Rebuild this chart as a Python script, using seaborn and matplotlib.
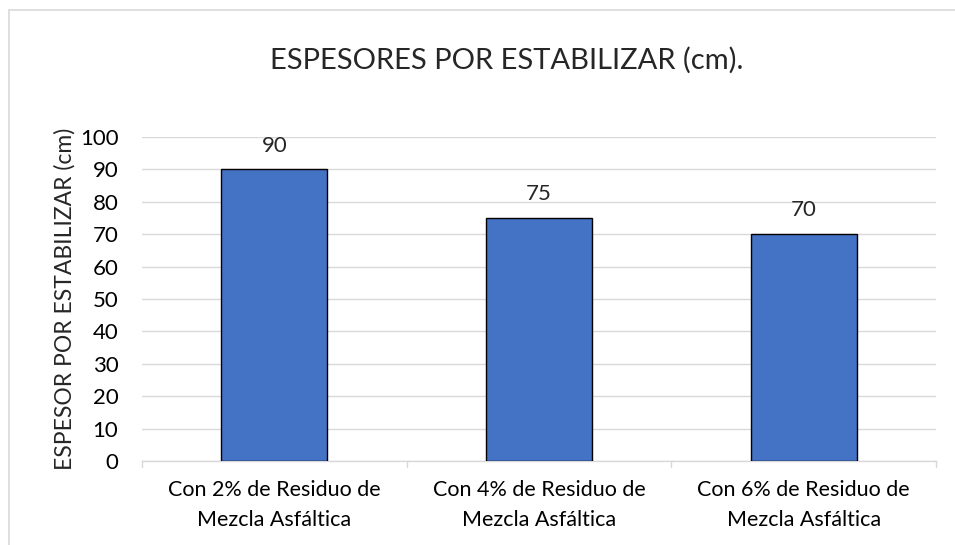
import matplotlib
matplotlib.use("Agg")
import matplotlib.pyplot as plt
import seaborn as sns
import pandas as pd
from matplotlib.lines import Line2D

categories = [
    "Con 2% de Residuo de\nMezcla Asfáltica",
    "Con 4% de Residuo de\nMezcla Asfáltica",
    "Con 6% de Residuo de\nMezcla Asfáltica",
]
values = [90, 75, 70]
y_ticks = [0, 10, 20, 30, 40, 50, 60, 70, 80, 90, 100]

title = "ESPESORES POR ESTABILIZAR (cm)."
y_label = "ESPESOR POR ESTABILIZAR (cm)"

sns.set_style("white")
plt.rcParams["font.family"] = ["Lato", "DejaVu Sans"]

df = pd.DataFrame({"cat": categories, "val": values})

fig = plt.figure(figsize=(9.55, 5.45), dpi=100)
ax = fig.add_axes([0.1487, 0.1541, 0.8313, 0.5945])

sns.barplot(data=df, x="cat", y="val", color="#4472C4", saturation=1,
            width=0.40, edgecolor="black", linewidth=1.0, ax=ax, zorder=3)

ax.set_xlim(-0.5, 2.5)
ax.set_ylim(0, 100)
ax.set_yticks(y_ticks)
ax.tick_params(axis="y", length=0, labelsize=16, pad=17, labelcolor="#000000")
ax.tick_params(axis="x", length=0, labelsize=15.5, pad=14, labelcolor="#000000")
for lbl in ax.get_xticklabels():
    lbl.set_linespacing(1.6)
ax.grid(axis="y", color="#d9d9d9", linewidth=1.0, zorder=0)
for s in ["top", "right", "left"]:
    ax.spines[s].set_visible(False)
ax.spines["bottom"].set_color("#d9d9d9")
ax.spines["bottom"].set_linewidth(1.0)

# category separator ticks below the axis
for xb in [-0.5, 0.5, 1.5, 2.5]:
    ax.plot([xb, xb], [0, -2.0], color="#d9d9d9", linewidth=1.0,
            clip_on=False, zorder=2)

ax.set_xlabel("")
ax.set_ylabel(y_label, fontsize=16.5, labelpad=3)

for c in ax.containers:
    ax.bar_label(c, labels=[f"{v}" for v in values], padding=10, fontsize=16)

fig.text(0.531, 0.89, title, ha="center", va="center", fontsize=21)

# chart frame
fig.add_artist(Line2D([9 / 955, 9 / 955], [0, 1 - 10 / 545], transform=fig.transFigure,
                      color="#d9d9d9", linewidth=1.2))
fig.add_artist(Line2D([9 / 955, 1], [1 - 10 / 545, 1 - 10 / 545], transform=fig.transFigure,
                      color="#d9d9d9", linewidth=1.2))

fig.savefig("out.png", dpi=100, facecolor="white")
